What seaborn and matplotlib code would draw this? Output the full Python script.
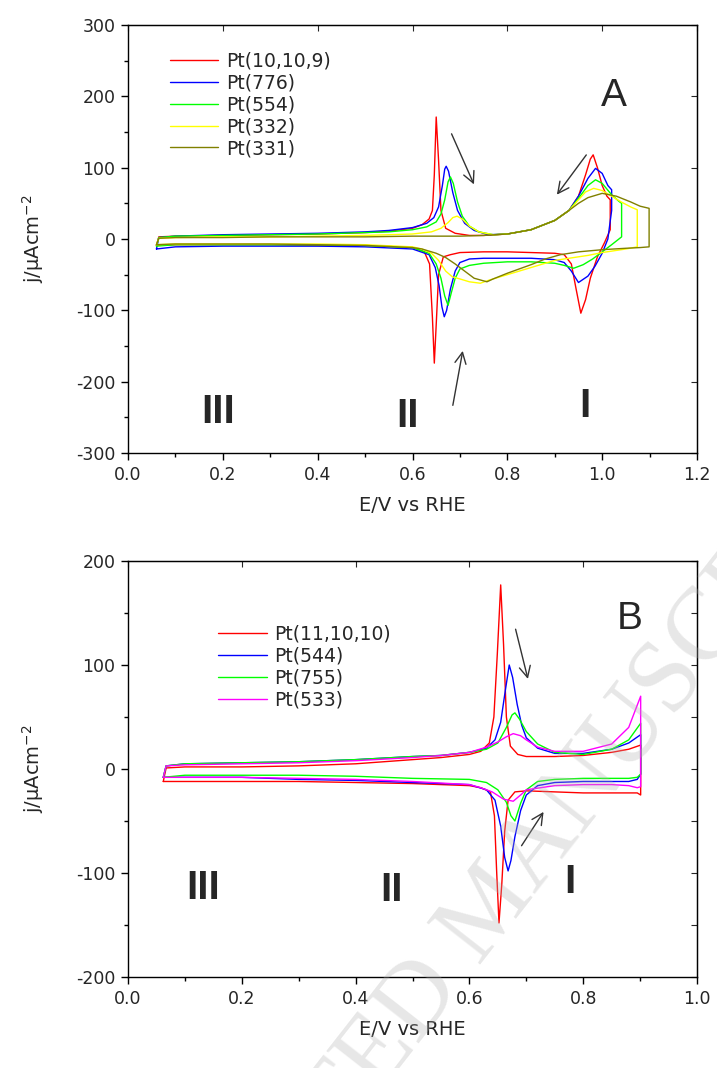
import pandas as pd
import seaborn as sns
import matplotlib.pyplot as plt
from matplotlib.ticker import MultipleLocator

# ---- panel A : cyclic voltammograms (E / V, j / uA cm-2), forward then reverse sweep
labels_a = ['Pt(10,10,9)', 'Pt(776)', 'Pt(554)', 'Pt(332)', 'Pt(331)']
colors_a = ['#ff0000', '#0000ff', '#00ff00', '#ffff00', '#808000']

E_1009 = [0.06, 0.065, 0.1, 0.2, 0.3, 0.4, 0.5, 0.55, 0.6, 0.62, 0.635, 0.642, 0.646, 0.65, 0.655, 0.66,
          0.67, 0.69, 0.72, 0.75, 0.8, 0.85, 0.9, 0.93, 0.95, 0.965, 0.975, 0.981, 0.99, 1.0, 1.01, 1.017,
          1.017, 1.005, 0.99, 0.975, 0.965, 0.955, 0.945, 0.935, 0.92, 0.9, 0.85, 0.8, 0.75, 0.7, 0.68,
          0.665, 0.655, 0.65, 0.646, 0.642, 0.636, 0.625, 0.6, 0.5, 0.4, 0.3, 0.2, 0.1, 0.06]
j_1009 = [-9, 3, 4, 5, 6, 7, 9, 11, 15, 20, 28, 40, 90, 171, 110, 40,
          15, 8, 5, 5, 7, 13, 26, 40, 60, 90, 112, 118, 100, 75, 60, 55,
          13, -5, -25, -55, -85, -104, -70, -35, -22, -20, -19, -18, -18, -19, -22,
          -25, -50, -120, -174, -110, -35, -18, -12, -9, -9, -8, -8, -8, -9]

E_776 = [0.06, 0.065, 0.1, 0.2, 0.3, 0.4, 0.5, 0.55, 0.6, 0.63, 0.645, 0.655, 0.663, 0.668, 0.671, 0.676,
         0.685, 0.695, 0.71, 0.73, 0.76, 0.8, 0.85, 0.9, 0.93, 0.95, 0.97, 0.986, 1.0, 1.012, 1.02,
         1.02, 1.012, 1.0, 0.985, 0.97, 0.95, 0.935, 0.92, 0.9, 0.85, 0.8, 0.75, 0.72, 0.7, 0.69, 0.68,
         0.672, 0.667, 0.662, 0.656, 0.648, 0.635, 0.6, 0.5, 0.4, 0.3, 0.2, 0.1, 0.06]
j_776 = [-14, 2, 4, 6, 7, 8, 10, 12, 16, 22, 30, 45, 75, 98, 102, 95,
         65, 40, 22, 12, 6, 7, 13, 26, 40, 60, 85, 99, 92, 75, 69,
         40, 0, -20, -38, -52, -61, -45, -33, -29, -27, -27, -27, -28, -33, -45, -70,
         -100, -109, -95, -65, -40, -22, -14, -11, -10, -10, -10, -11, -14]

E_554 = [0.06, 0.065, 0.1, 0.2, 0.3, 0.4, 0.5, 0.55, 0.6, 0.63, 0.65, 0.66, 0.668, 0.675, 0.68, 0.686,
         0.695, 0.705, 0.72, 0.74, 0.77, 0.8, 0.85, 0.9, 0.93, 0.95, 0.97, 0.986, 1.0, 1.02, 1.035, 1.041,
         1.041, 1.02, 1.0, 0.98, 0.96, 0.94, 0.92, 0.9, 0.85, 0.8, 0.75, 0.72, 0.7, 0.69, 0.682,
         0.675, 0.668, 0.66, 0.65, 0.635, 0.6, 0.5, 0.4, 0.3, 0.2, 0.1, 0.06]
j_554 = [-10, 2, 4, 5, 6, 7, 9, 10, 13, 17, 24, 35, 55, 80, 87, 78,
         52, 32, 18, 10, 6, 7, 13, 26, 40, 57, 75, 83, 78, 62, 53, 50,
         3, -8, -18, -28, -36, -41, -37, -34, -32, -32, -34, -37, -42, -55, -75,
         -93, -80, -55, -35, -20, -12, -9, -8, -8, -8, -8, -10]

E_332 = [0.06, 0.065, 0.1, 0.2, 0.3, 0.4, 0.5, 0.6, 0.64, 0.66, 0.675, 0.685, 0.694, 0.705, 0.72,
         0.74, 0.77, 0.8, 0.85, 0.9, 0.93, 0.95, 0.965, 0.982, 1.0, 1.02, 1.04, 1.06, 1.074,
         1.074, 1.05, 1.02, 1.0, 0.97, 0.94, 0.9, 0.85, 0.8, 0.76, 0.743, 0.72, 0.7, 0.684, 0.67,
         0.655, 0.64, 0.62, 0.6, 0.5, 0.4, 0.3, 0.2, 0.1, 0.06]
j_332 = [-8, 1, 2, 3, 3, 4, 5, 7, 10, 15, 23, 30, 32, 28, 18,
         10, 6, 7, 13, 26, 40, 55, 66, 71, 68, 60, 52, 45, 41,
         -11, -14, -17, -19, -23, -26, -30, -40, -50, -58, -62, -60, -56, -53, -45,
         -30, -20, -14, -11, -8, -7, -7, -7, -7, -8]

E_331 = [0.06, 0.065, 0.1, 0.2, 0.3, 0.4, 0.5, 0.6, 0.7, 0.75, 0.8, 0.85, 0.9, 0.93, 0.95, 0.97,
         1.0, 1.03, 1.06, 1.08, 1.099,
         1.099, 1.08, 1.05, 1.0, 0.95, 0.912, 0.88, 0.85, 0.8, 0.77, 0.757, 0.73, 0.71, 0.69, 0.67,
         0.65, 0.62, 0.6, 0.5, 0.4, 0.3, 0.2, 0.1, 0.06]
j_331 = [-8, 1, 2, 2, 3, 3, 3, 4, 4, 5, 7, 13, 26, 40, 50, 58,
         64, 60, 52, 46, 43,
         -11, -12, -13, -15, -18, -22, -28, -36, -48, -56, -60, -55, -45, -35, -26,
         -20, -14, -12, -9, -8, -7, -7, -7, -8]

# ---- panel B
labels_b = ['Pt(11,10,10)', 'Pt(544)', 'Pt(755)', 'Pt(533)']
colors_b = ['#ff0000', '#0000ff', '#00ff00', '#ff00ff']

E_111010 = [0.062, 0.067, 0.1, 0.2, 0.3, 0.4, 0.5, 0.55, 0.6, 0.62, 0.635, 0.643, 0.649, 0.655, 0.66,
            0.665, 0.672, 0.685, 0.7, 0.75, 0.8, 0.85, 0.88, 0.901,
            0.901, 0.895, 0.85, 0.8, 0.75, 0.7, 0.68, 0.668, 0.662, 0.657, 0.652, 0.648, 0.644, 0.637,
            0.62, 0.6, 0.5, 0.4, 0.3, 0.2, 0.1, 0.062]
j_111010 = [-12, 1, 2, 2, 3, 5, 9, 11, 14, 17, 25, 50, 110, 177, 120,
            50, 22, 14, 12, 12, 13, 16, 19, 23,
            -25, -23, -23, -23, -22, -21, -22, -30, -60, -110, -148, -100, -45, -22,
            -18, -16, -14, -13, -12, -12, -12, -12]

E_544 = [0.062, 0.067, 0.1, 0.2, 0.3, 0.4, 0.5, 0.55, 0.6, 0.63, 0.645, 0.655, 0.663, 0.67, 0.676,
         0.684, 0.692, 0.7, 0.72, 0.75, 0.8, 0.85, 0.88, 0.901,
         0.901, 0.895, 0.88, 0.85, 0.8, 0.75, 0.72, 0.7, 0.69, 0.68, 0.673, 0.668, 0.662, 0.655, 0.645,
         0.63, 0.6, 0.5, 0.4, 0.3, 0.2, 0.1, 0.062]
j_544 = [-8, 3, 5, 6, 7, 9, 12, 13, 16, 20, 28, 45, 75, 100, 88,
         62, 42, 30, 20, 15, 15, 19, 25, 33,
         -5, -10, -12, -12, -12, -13, -16, -25, -40, -65, -88, -98, -85, -55, -30,
         -20, -15, -13, -11, -10, -8, -8, -8]

E_755 = [0.062, 0.067, 0.1, 0.2, 0.3, 0.4, 0.5, 0.55, 0.6, 0.63, 0.65, 0.665, 0.675, 0.68, 0.688,
         0.7, 0.72, 0.75, 0.8, 0.85, 0.88, 0.901,
         0.901, 0.895, 0.88, 0.85, 0.8, 0.75, 0.72, 0.7, 0.69, 0.68, 0.673, 0.665, 0.65, 0.63,
         0.6, 0.5, 0.4, 0.3, 0.2, 0.1, 0.062]
j_755 = [-8, 3, 5, 6, 7, 9, 12, 13, 16, 19, 25, 40, 52, 54, 48,
         36, 24, 16, 14, 19, 28, 44,
         -5, -8, -9, -9, -9, -10, -12, -20, -33, -50, -45, -32, -20, -13,
         -10, -9, -7, -6, -6, -6, -8]

E_533 = [0.062, 0.067, 0.1, 0.2, 0.3, 0.4, 0.5, 0.55, 0.6, 0.63, 0.65, 0.665, 0.677, 0.69, 0.7, 0.72,
         0.75, 0.8, 0.85, 0.88, 0.901,
         0.901, 0.895, 0.88, 0.85, 0.8, 0.75, 0.7, 0.69, 0.677, 0.66, 0.64, 0.62,
         0.6, 0.5, 0.4, 0.3, 0.2, 0.1, 0.062]
j_533 = [-8, 3, 4, 5, 6, 8, 11, 13, 16, 21, 26, 31, 34, 32, 28, 21,
         17, 17, 24, 40, 70,
         -17, -18, -16, -15, -15, -16, -20, -25, -31, -29, -22, -18,
         -15, -12, -10, -9, -8, -8, -8]


def make_df(labels, Es, js):
    frames = []
    for lab, E, j in zip(labels, Es, js):
        frames.append(pd.DataFrame({'E': E, 'j': j, 'sample': lab}))
    return pd.concat(frames, ignore_index=True)


df_a = make_df(labels_a, [E_1009, E_776, E_554, E_332, E_331], [j_1009, j_776, j_554, j_332, j_331])
df_b = make_df(labels_b, [E_111010, E_544, E_755, E_533], [j_111010, j_544, j_755, j_533])

sns.set_style('white')
plt.rcParams['font.family'] = ['DejaVu Sans']
plt.rcParams['mathtext.default'] = 'regular'
plt.rcParams['axes.unicode_minus'] = False

fig = plt.figure(figsize=(7.17, 10.68), dpi=100)
ax_a = fig.add_axes([128 / 717, 1 - 453 / 1068, 569 / 717, 428 / 1068])
ax_b = fig.add_axes([128 / 717, 1 - 977 / 1068, 569 / 717, 416 / 1068])


def style_axis(ax):
    for s in ax.spines.values():
        s.set_color('black')
        s.set_linewidth(1.0)
    ax.tick_params(which='both', direction='out', bottom=True, left=True, top=False, right=False,
                   labelsize=12.5, color='black', pad=4)
    ax.tick_params(which='major', length=5, width=1)
    ax.tick_params(which='minor', length=3, width=1)
    ax.set_xlabel('E/V vs RHE', fontsize=14, labelpad=9)
    ax.set_ylabel('j/μAcm$^{-2}$', fontsize=14, labelpad=22)
    # inward ticks on the top and right frame
    sec = ax.secondary_xaxis('top')
    sec.tick_params(which='both', direction='in', labeltop=False, length=4)
    sec.set_xticklabels([])
    sec2 = ax.secondary_yaxis('right')
    sec2.tick_params(which='both', direction='in', labelright=False, length=4)
    sec2.set_yticklabels([])


arrow = dict(arrowstyle='->', color='#333333', lw=1.0, mutation_scale=20)
num_kw = dict(fontsize=29, fontweight='bold', family='Liberation Sans', ha='center', va='center')
big_kw = dict(fontsize=28, family='Liberation Sans', ha='center', va='center')

# panel A
sns.lineplot(data=df_a, x='E', y='j', hue='sample', palette=colors_a, sort=False, estimator=None,
             linewidth=1.0, ax=ax_a)
ax_a.set_xlim(0, 1.2)
ax_a.set_ylim(-300, 300)
ax_a.xaxis.set_major_locator(MultipleLocator(0.2))
ax_a.xaxis.set_minor_locator(MultipleLocator(0.1))
ax_a.yaxis.set_major_locator(MultipleLocator(100))
ax_a.yaxis.set_minor_locator(MultipleLocator(50))
ax_a.xaxis.set_major_formatter(plt.FormatStrFormatter('%.1f'))
style_axis(ax_a)
ax_a.legend(loc='upper left', bbox_to_anchor=(0.06, 0.955), frameon=False, fontsize=13.5,
            handlelength=2.6, handletextpad=0.4, labelspacing=0.15, borderaxespad=0)
ax_a.text(1.025, 200, 'A', **big_kw)
ax_a.text(0.191, -243, 'III', **num_kw)
ax_a.text(0.589, -248, 'II', **num_kw)
ax_a.text(0.964, -234, 'I', **num_kw)
ax_a.annotate('', xy=(0.732, 73), xytext=(0.680, 151), arrowprops=arrow)
ax_a.annotate('', xy=(0.901, 59), xytext=(0.970, 121), arrowprops=arrow)
ax_a.annotate('', xy=(0.707, -153), xytext=(0.684, -237), arrowprops=arrow)

# panel B
sns.lineplot(data=df_b, x='E', y='j', hue='sample', palette=colors_b, sort=False, estimator=None,
             linewidth=1.0, ax=ax_b)
ax_b.set_xlim(0, 1.0)
ax_b.set_ylim(-200, 200)
ax_b.xaxis.set_major_locator(MultipleLocator(0.2))
ax_b.xaxis.set_minor_locator(MultipleLocator(0.1))
ax_b.yaxis.set_major_locator(MultipleLocator(100))
ax_b.yaxis.set_minor_locator(MultipleLocator(50))
ax_b.xaxis.set_major_formatter(plt.FormatStrFormatter('%.1f'))
style_axis(ax_b)
ax_b.legend(loc='upper left', bbox_to_anchor=(0.145, 0.865), frameon=False, fontsize=13.5,
            handlelength=2.6, handletextpad=0.4, labelspacing=0.15, borderaxespad=0)
ax_b.text(0.882, 144, 'B', **big_kw)
ax_b.text(0.132, -114, 'III', **num_kw)
ax_b.text(0.463, -116, 'II', **num_kw)
ax_b.text(0.777, -109, 'I', **num_kw)
ax_b.annotate('', xy=(0.704, 84), xytext=(0.680, 137), arrowprops=arrow)
ax_b.annotate('', xy=(0.733, -39), xytext=(0.689, -76), arrowprops=arrow)

# watermark
fig.text(492 / 717, 1 - 910 / 1068, 'ACCEPTED MANUSCRIPT', fontsize=74, rotation=52,
         ha='center', va='center', color='#b0b0b0', alpha=0.3, family='Liberation Serif')

fig.savefig('out.png', dpi=100)
